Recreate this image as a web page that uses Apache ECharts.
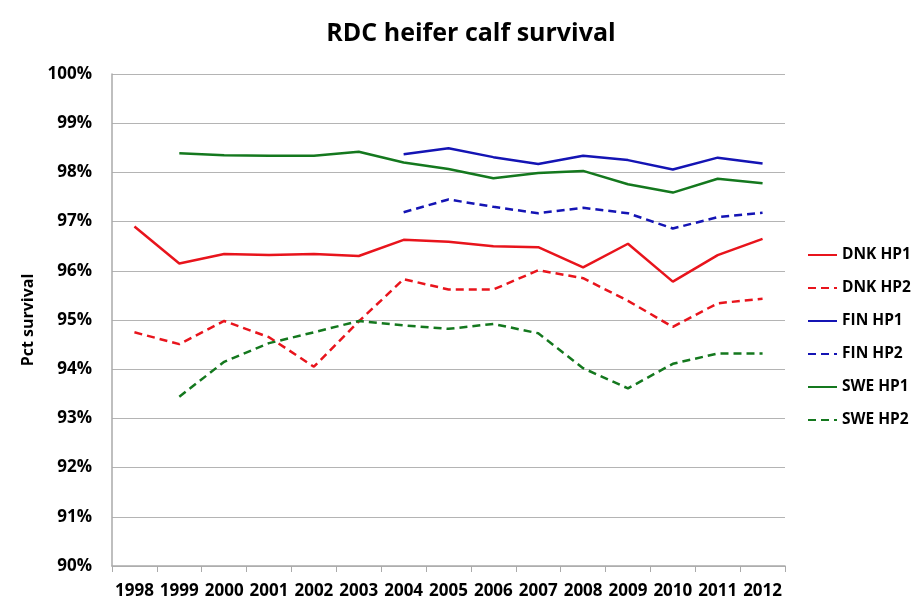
<!DOCTYPE html>
<html><head><meta charset="utf-8">
<script src="https://cdn.jsdelivr.net/npm/echarts@6/dist/echarts.min.js"></script>
<style>html,body{margin:0;padding:0;background:#fff}#c{width:920px;height:604px}</style>
</head><body><div id="c"></div>
<script>
const years = ['1998','1999','2000','2001','2002','2003','2004','2005','2006','2007','2008','2009','2010','2011','2012'];
const dnkHP1 = [96.90,96.15,96.34,96.32,96.34,96.30,96.63,96.59,96.50,96.48,96.07,96.55,95.78,96.32,96.65];
const dnkHP2 = [94.75,94.51,94.98,94.65,94.05,94.97,95.83,95.62,95.62,96.01,95.85,95.39,94.86,95.34,95.43];
const finHP1 = [null,null,null,null,null,null,98.37,98.49,98.31,98.17,98.34,98.25,98.06,98.30,98.18];
const finHP2 = [null,null,null,null,null,null,97.19,97.45,97.30,97.17,97.28,97.17,96.86,97.09,97.18];
const sweHP1 = [null,98.39,98.35,98.34,98.34,98.42,98.20,98.07,97.88,97.99,98.03,97.76,97.59,97.87,97.78];
const sweHP2 = [null,93.44,94.15,94.53,94.75,94.98,94.89,94.82,94.92,94.73,94.02,93.61,94.11,94.32,94.32];

const F = 'Open Sans';
function ser(name, data, color, dashed){
  return {name, type:'line', data, symbol:'circle', showSymbol:false, connectNulls:false,
    lineStyle:{color, width:2.5, type: dashed ? [8,5] : 'solid'},
    itemStyle:{color}};
}
const chart = echarts.init(document.getElementById('c'));
chart.setOption({
  animation:false,
  title:{text:'RDC heifer calf survival', left:466, top:16, textAlign:'center',
    textStyle:{fontFamily:F, fontWeight:'bold', fontSize:25, color:'#000'}},
  grid:{left:112, right:135, top:74, bottom:38},
  legend:{orient:'vertical', left:802, top:242, itemWidth:29, itemHeight:14, itemGap:17,
    itemStyle:{opacity:0},
    textStyle:{fontFamily:F, fontWeight:'bold', fontSize:15.5, lineHeight:14, color:'#000'},
    data:['DNK HP1','DNK HP2','FIN HP1','FIN HP2','SWE HP1','SWE HP2']},
  xAxis:{type:'category', data:years, boundaryGap:true,
    axisLine:{lineStyle:{color:'#aaa', width:1.5}},
    axisTick:{show:true, interval:0, length:6, lineStyle:{color:'#aaa'}},
    axisLabel:{interval:0, margin:17, fontFamily:F, fontWeight:'bold', fontSize:17, color:'#000'}},
  yAxis:{type:'value', min:90, max:100, interval:1,
    name:'Pct survival', nameLocation:'middle', nameGap:76, nameRotate:90,
    nameTextStyle:{fontFamily:F, fontWeight:'bold', fontSize:16, color:'#000'},
    axisLine:{show:true, lineStyle:{color:'#aaa', width:1.5}},
    axisTick:{show:false},
    splitLine:{lineStyle:{color:'#b4b4b4', width:1.2}},
    axisLabel:{margin:20, fontFamily:F, fontWeight:'bold', fontSize:17, color:'#000',
      formatter: v => v + '%'}},
  series:[
    ser('DNK HP1', dnkHP1, '#e8141c', false),
    ser('DNK HP2', dnkHP2, '#e8141c', true),
    ser('FIN HP1', finHP1, '#1414b4', false),
    ser('FIN HP2', finHP2, '#1414b4', true),
    ser('SWE HP1', sweHP1, '#14781e', false),
    ser('SWE HP2', sweHP2, '#14781e', true)
  ]
});
</script></body></html>
